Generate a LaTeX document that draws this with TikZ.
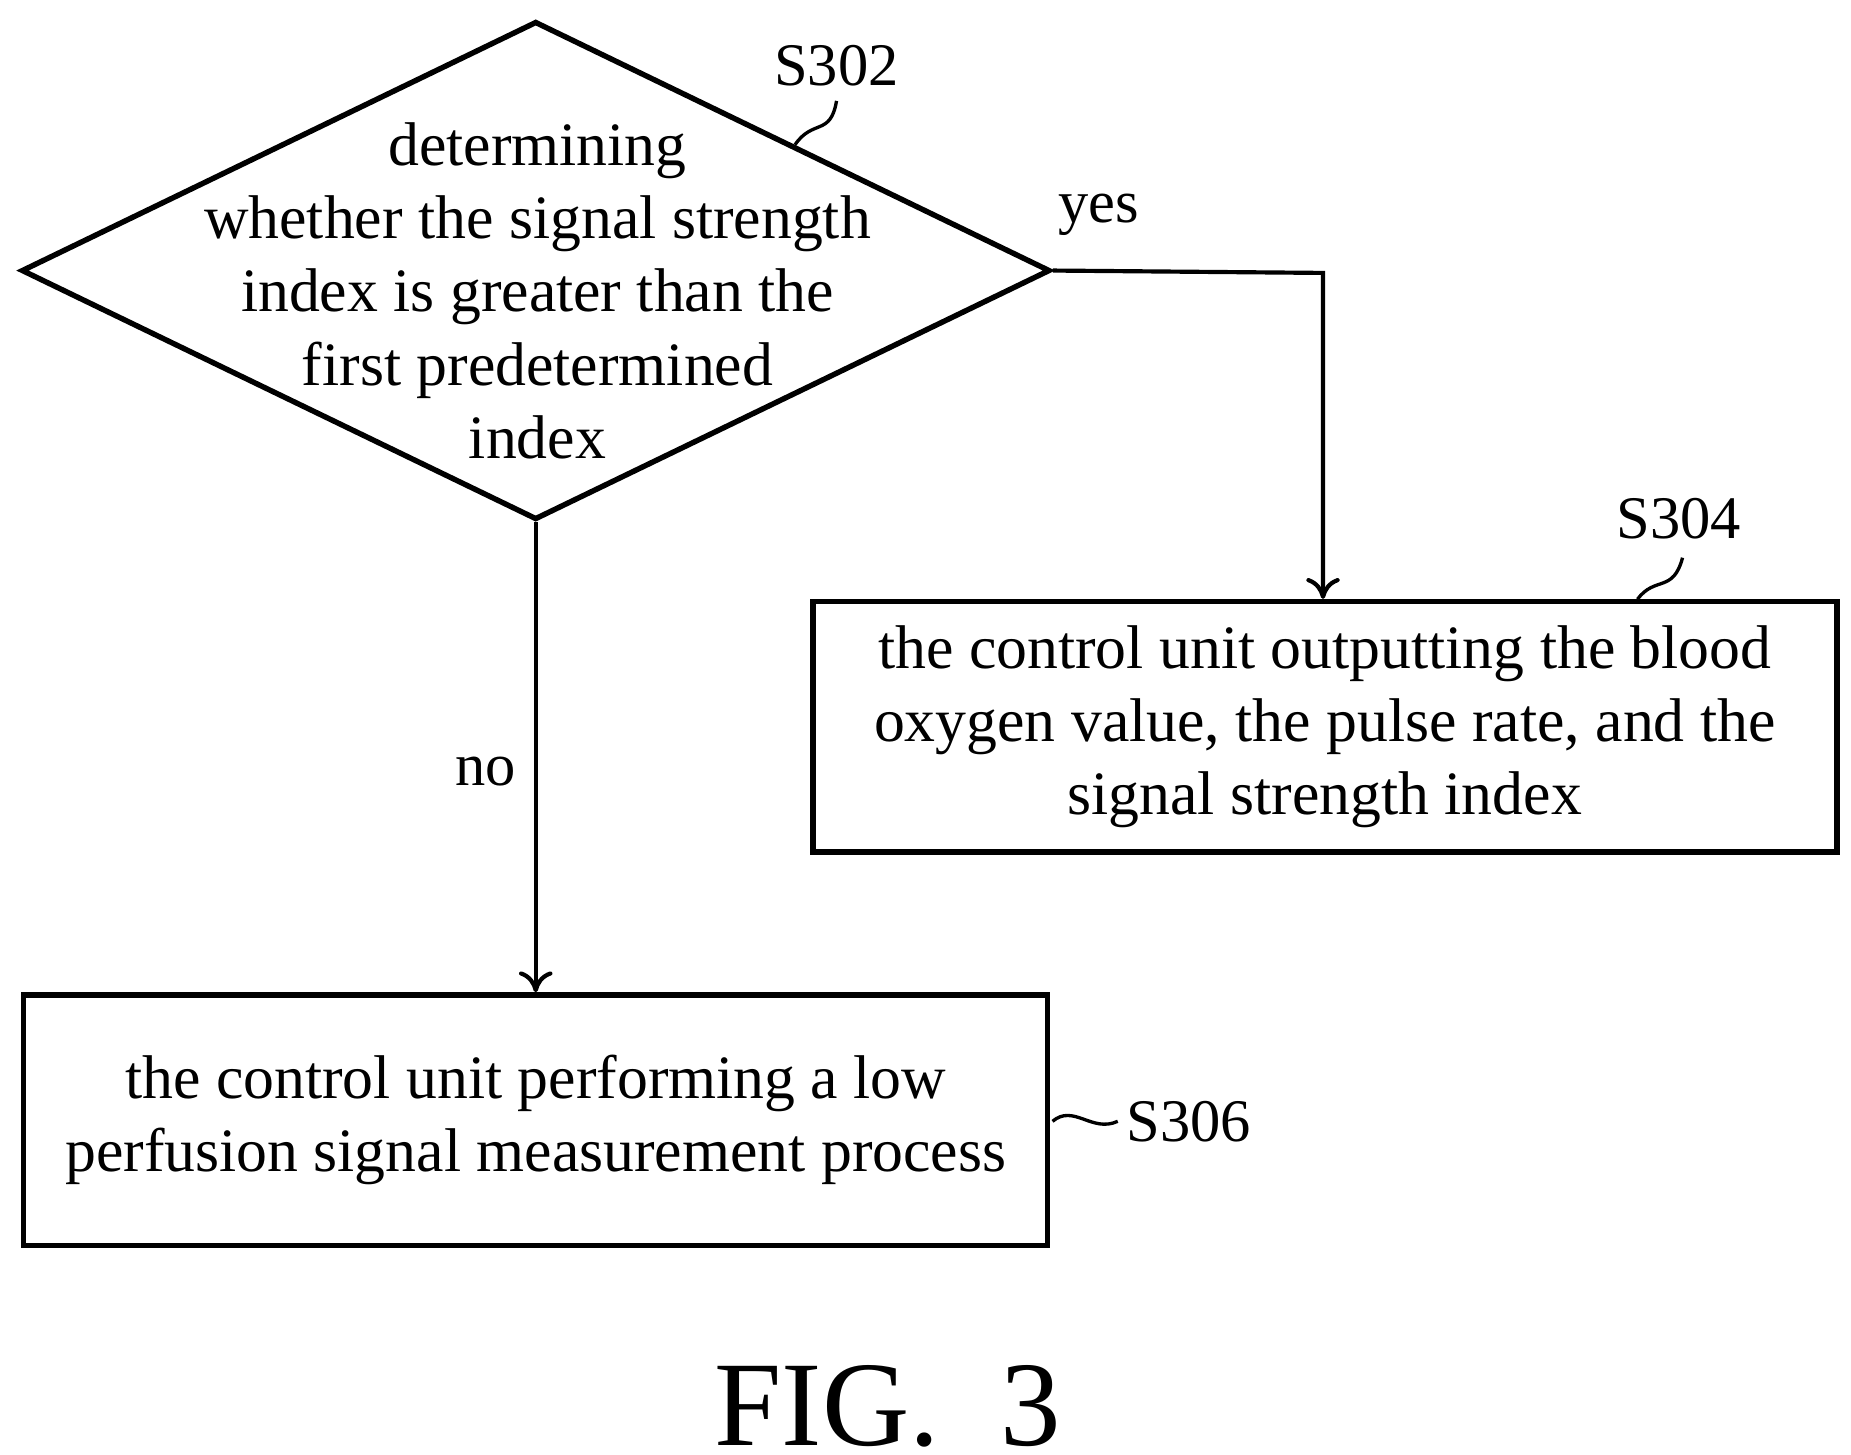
\documentclass[tikz,border=0pt]{standalone}
\usepackage{fontspec}
\setmainfont{Liberation Serif}
\usetikzlibrary{positioning, arrows, arrows.meta, shapes.geometric}

\begin{document}
\begin{tikzpicture}[
  line width=1.3pt,
  txt/.style={font=\fontsize{14.8}{17.6}\selectfont, align=center},
  stepbox/.style={draw, rectangle, minimum width=8.63cm, minimum height=2.11cm, inner sep=0pt, txt},
  lbl/.style={font=\fontsize{14.5}{17.6}\selectfont, inner sep=0pt},
  flow/.style={-{To[length=5pt,width=8pt]}, line width=1pt}
]
\useasboundingbox (0,0) rectangle (15.6,-12.26);
% decision S302
\node[draw, diamond, minimum width=8.67cm, minimum height=4.2cm, inner sep=0pt] (dec) at (4.515,-2.28) {};
\node[txt] (dectxt) at (4.53,-2.45) {determining\\whether the signal strength\\index is greater than the\\first predetermined\\index};
% steps
\node[stepbox] (s304) at (11.165,-6.125) {the control unit outputting the blood\\oxygen value, the pulse rate, and the\\signal strength index};
\node[stepbox] (s306) at (4.515,-9.44) {the control unit performing a low\\perfusion signal measurement process};
% step labels
\node[lbl] (l302) at (7.05,-0.55) {S302};
\node[lbl] (l304) at (14.15,-4.37) {S304};
\node[lbl, anchor=west] (l306) at (9.47,-9.45) {S306};
\draw[line width=0.8pt] (6.70,-1.22) .. controls (6.85,-1.0) and (7.0,-1.15) .. (7.05,-0.85);
\draw[line width=0.8pt] (13.80,-5.05) .. controls (13.95,-4.85) and (14.1,-5.0) .. (14.18,-4.70);
\draw[line width=0.8pt] (8.87,-9.45) .. controls (9.05,-9.30) and (9.2,-9.55) .. (9.42,-9.45);
% connectors
\draw[flow] (dec.east) -- (11.15,-2.30) node[lbl, pos=0.17, above=0.28cm] (yes) {yes} -- (s304.north -| 11.15,0);
\draw[flow] (dec.south) -- (s306.north) node[lbl, pos=0.53, left=0.15cm] (no) {no};
% caption
\node[font=\fontsize{29}{34}\selectfont] (fig) at (7.48,-11.85) {FIG.\ \ 3};
\end{tikzpicture}
\end{document}
